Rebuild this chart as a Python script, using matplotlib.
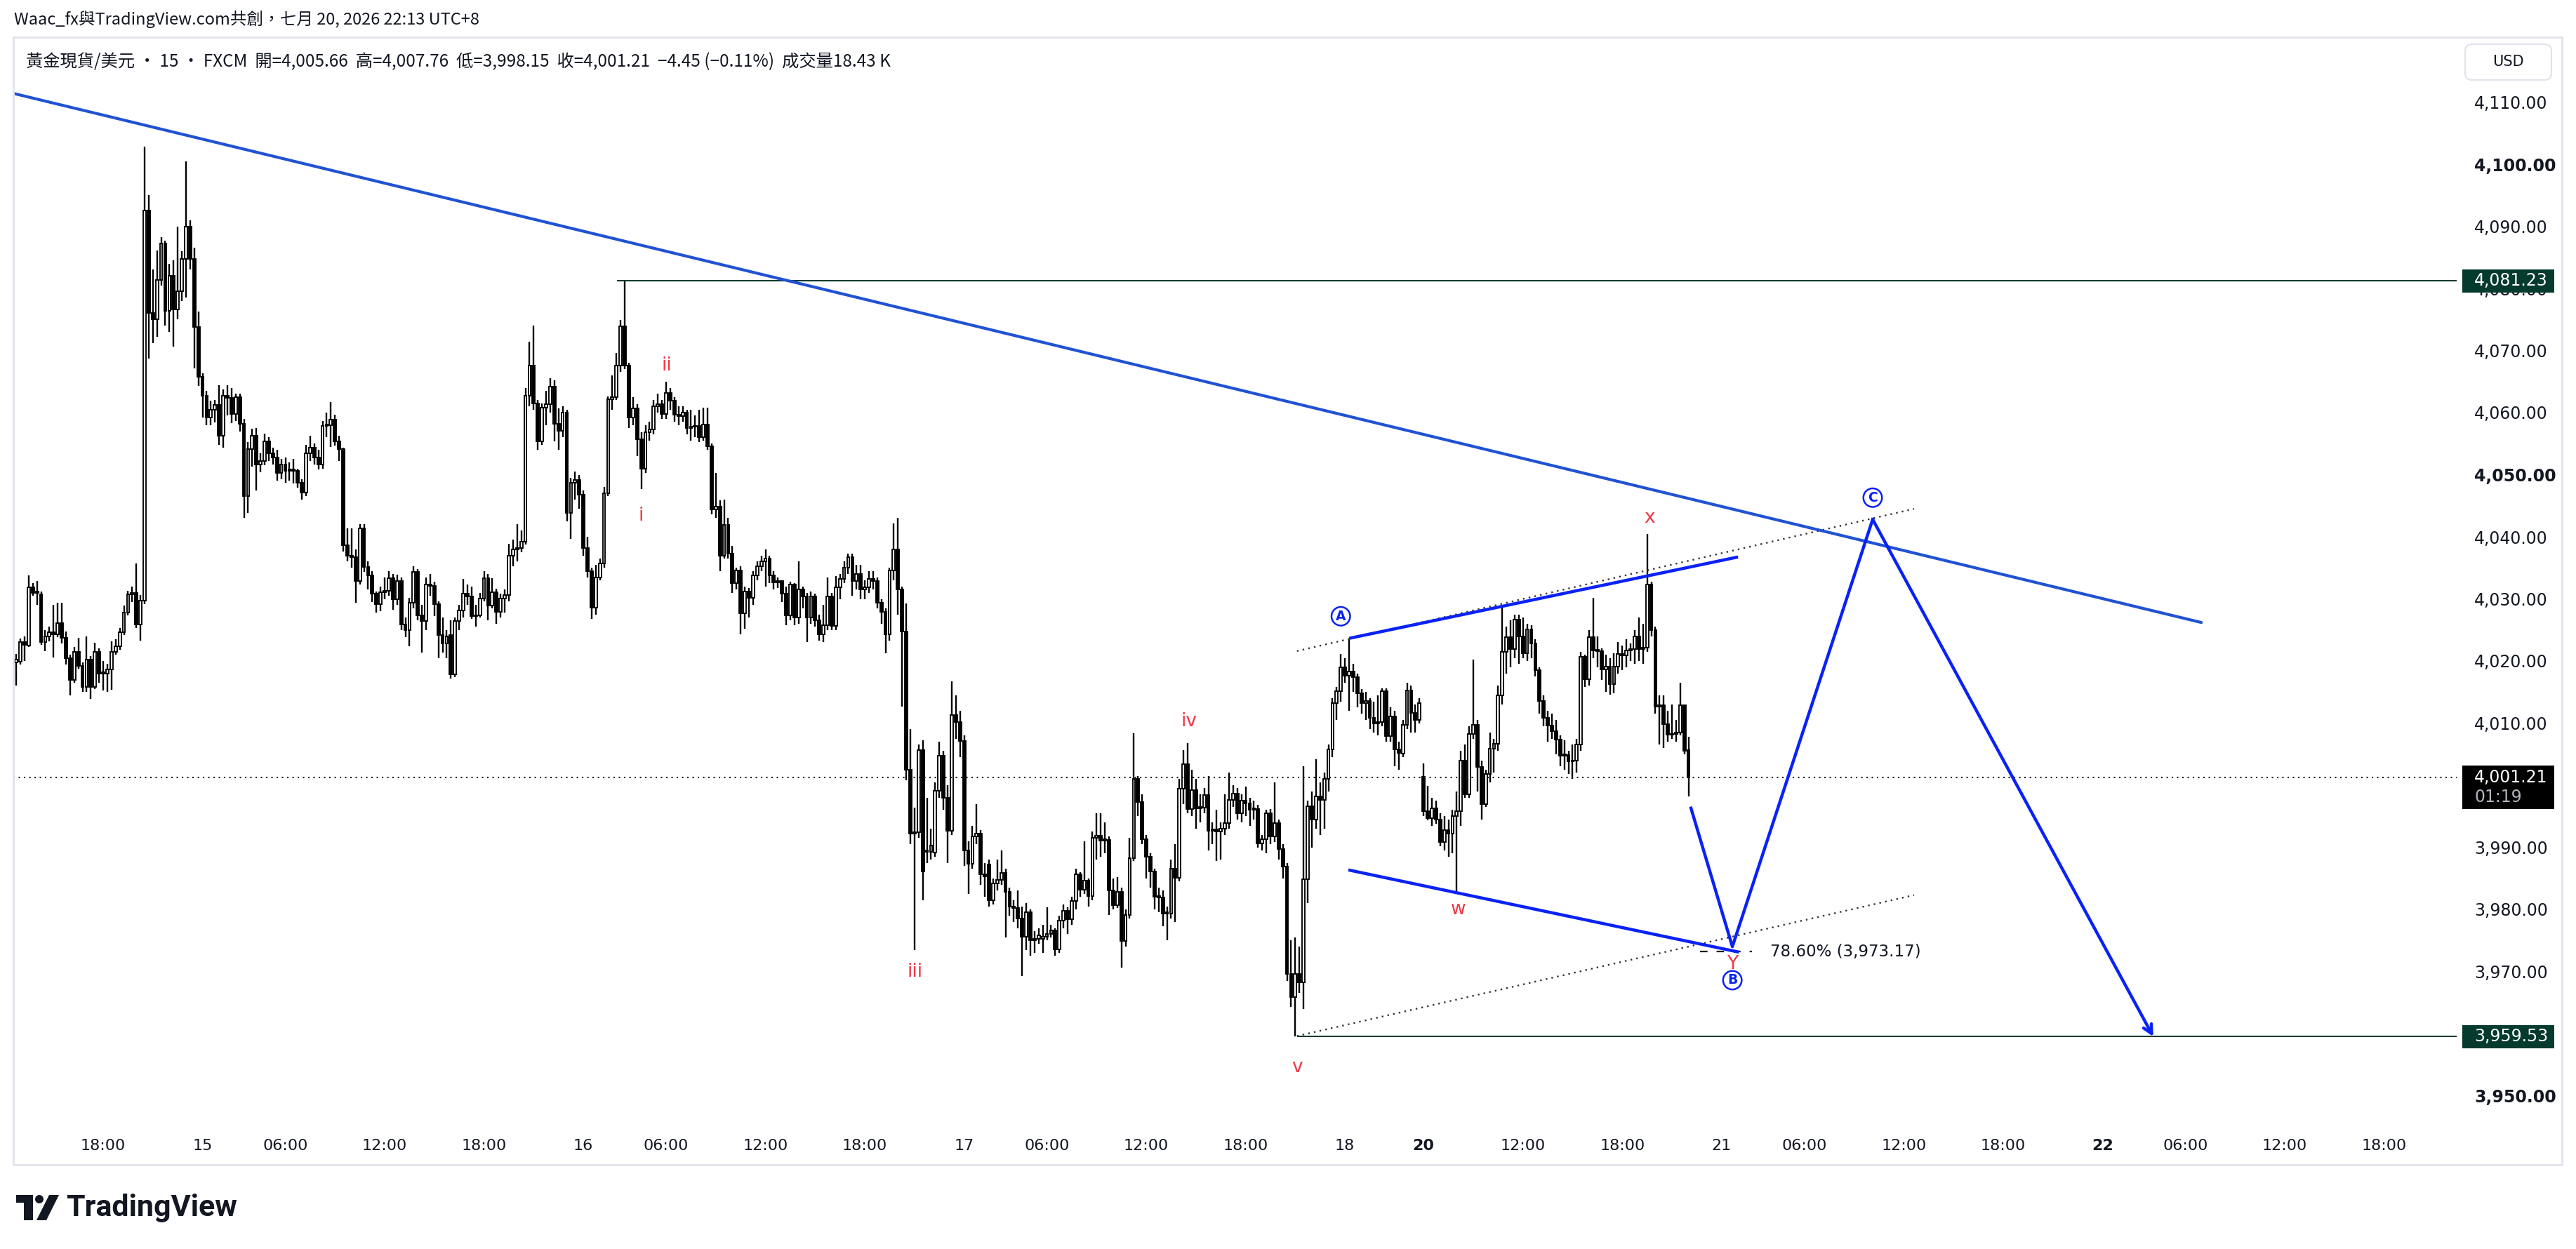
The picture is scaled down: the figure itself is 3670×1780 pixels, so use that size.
import matplotlib.pyplot as plt
from matplotlib.patches import Rectangle, Circle, Polygon, FancyBboxPatch
from matplotlib.transforms import Affine2D

W, H, DPI = 3670, 1780, 100

# 15-minute candles, index 0 = 14th 12:45 (UTC+8), last = 20th 22:00
opens = [
    4019.8, 4019.9, 4023.0, 4022.5, 4031.9, 4031.0, 4030.7, 4023.0, 4024.0, 4024.6,
    4024.3, 4026.1, 4023.7, 4020.5, 4017.0, 4021.5, 4019.2, 4015.8, 4020.2, 4015.8,
    4021.5, 4018.0, 4018.0, 4018.7, 4021.5, 4022.4, 4024.6, 4027.8, 4030.7, 4031.0,
    4025.9, 4029.7, 4092.5, 4076.0, 4075.0, 4081.4, 4087.2, 4076.4, 4082.0, 4076.6,
    4079.6, 4084.7, 4089.9, 4084.7, 4073.8, 4065.8, 4062.7, 4059.2, 4060.5, 4061.2,
    4056.3, 4062.7, 4062.4, 4059.8, 4062.5, 4058.2, 4046.5, 4054.1, 4056.3, 4051.6,
    4052.2, 4055.4, 4053.5, 4052.8, 4050.3, 4051.6, 4050.6, 4050.9, 4050.6, 4048.7,
    4047.1, 4053.5, 4054.4, 4052.8, 4051.6, 4057.9, 4058.0, 4058.9, 4055.4, 4054.1,
    4038.6, 4037.0, 4036.7, 4032.9, 4041.4, 4035.1, 4033.8, 4030.8, 4029.1, 4031.1,
    4031.3, 4033.3, 4029.9, 4032.9, 4025.9, 4025.0, 4029.4, 4034.4, 4027.4, 4026.4,
    4032.3, 4032.1, 4029.1, 4024.2, 4022.8, 4024.2, 4017.9, 4026.4, 4028.1, 4030.8,
    4030.35, 4027.2, 4027.4, 4030.1, 4033.3, 4028.9, 4031.1, 4027.9, 4030.1, 4030.6,
    4037.0, 4038.0, 4038.2, 4039.2, 4062.7, 4067.6, 4061.5, 4055.4, 4060.8, 4061.3,
    4064.2, 4058.2, 4057.1, 4060.0, 4043.8, 4048.7, 4049.2, 4046.8, 4038.2, 4034.5,
    4028.6, 4033.5, 4035.7, 4047.0, 4062.2, 4062.5, 4067.6, 4073.9, 4067.6, 4059.2,
    4060.7, 4055.7, 4051.0, 4056.8, 4057.3, 4061.0, 4061.3, 4059.75, 4063.2, 4061.9,
    4059.7, 4059.4, 4060.0, 4057.5, 4057.7, 4057.9, 4056.1, 4058.1, 4054.6, 4044.4,
    4044.9, 4037.0, 4041.9, 4037.3, 4032.5, 4034.6, 4027.7, 4031.2, 4030.2, 4033.8,
    4035.2, 4036.0, 4036.5, 4033.8, 4032.7, 4032.9, 4030.8, 4027.3, 4032.3, 4027.0,
    4031.5, 4030.4, 4027.0, 4030.4, 4026.6, 4024.3, 4025.8, 4030.4, 4025.6, 4031.9,
    4033.2, 4035.0, 4036.7, 4032.9, 4034.0, 4031.5, 4031.9, 4033.2, 4032.9, 4029.4,
    4027.9, 4024.3, 4034.6, 4038.0, 4031.5, 4024.7, 4002.5, 3992.2, 3992.4, 4005.6,
    3989.5, 3989.3, 3989.1, 3999.1, 4004.8, 3998.0, 3992.6, 4011.3, 4010.2, 4007.1,
    3989.5, 3987.4, 3991.8, 3992.2, 3985.7, 3987.2, 3981.5, 3984.2, 3984.8, 3985.9,
    3982.8, 3980.4, 3980.2, 3978.5, 3975.6, 3979.6, 3975.0, 3975.2, 3975.2, 3975.6,
    3976.1, 3976.6, 3973.6, 3978.2, 3979.8, 3978.4, 3981.4, 3985.6, 3983.2, 3984.6,
    3982.1, 3991.5, 3991.9, 3991.1, 3991.2, 3983.0, 3980.7, 3982.8, 3974.9, 3979.1,
    3988.3, 4001.0, 3997.3, 3991.3, 3988.5, 3986.1, 3982.0, 3981.9, 3979.3, 3979.3,
    3986.5, 3985.1, 3999.4, 4003.4, 3996.2, 3999.2, 3996.3, 3996.4, 3998.4, 3992.7,
    3992.9, 3992.5, 3993.0, 3993.9, 3997.6, 3998.7, 3995.5, 3997.5, 3997.1, 3996.1,
    3996.2, 3990.6, 3991.3, 3995.5, 3991.8, 3993.9, 3989.7, 3986.9, 3969.6, 3965.9,
    3969.6, 3968.2, 3984.9, 3996.6, 3994.5, 3998.2, 3997.6, 4001.0, 4005.8, 4013.2,
    4015.1, 4019.0, 4017.6, 4018.3, 4017.4, 4014.8, 4013.2, 4013.6, 4010.9, 4010.0,
    4010.2, 4015.1, 4007.9, 4011.1, 4005.8, 4005.1, 4009.7, 4015.2, 4011.6, 4010.5,
    4001.4, 3995.8, 3994.7, 3996.3, 3994.5, 3990.8, 3992.8, 3992.2, 3995.0, 3995.8,
    4003.9, 3998.5, 4008.3, 4009.7, 4002.9, 3997.0, 4001.8, 4005.9, 4006.7, 4014.5,
    4021.5, 4023.8, 4021.9, 4026.7, 4023.9, 4021.2, 4025.1, 4022.8, 4018.5, 4013.6,
    4010.9, 4009.6, 4008.7, 4007.4, 4004.8, 4004.9, 4003.8, 4004.0, 4006.5, 4020.7,
    4017.1, 4023.8, 4021.7, 4021.6, 4018.7, 4019.1, 4016.3, 4019.1, 4021.1, 4020.9,
    4021.7, 4021.9, 4024.0, 4021.9, 4022.2, 4032.3, 4025.0, 4012.6, 4012.9, 4009.8,
    4008.1, 4008.3, 4008.5, 4012.9, 4005.66,
]
highs = [
    4021.1, 4023.6, 4023.9, 4033.8, 4032.5, 4032.9, 4031.2, 4025.0, 4025.5, 4029.0,
    4029.4, 4029.4, 4024.8, 4021.0, 4022.3, 4023.7, 4019.8, 4023.9, 4020.8, 4022.9,
    4022.0, 4020.0, 4019.6, 4023.2, 4023.5, 4025.3, 4028.9, 4031.3, 4032.0, 4035.7,
    4030.6, 4102.8, 4095.0, 4083.0, 4086.1, 4088.2, 4087.7, 4084.0, 4084.5, 4089.9,
    4086.0, 4100.4, 4091.0, 4086.5, 4076.3, 4066.3, 4063.5, 4061.9, 4062.0, 4064.4,
    4063.7, 4064.4, 4064.0, 4063.0, 4063.0, 4059.0, 4055.3, 4057.4, 4057.5, 4053.5,
    4056.6, 4056.0, 4054.4, 4054.0, 4052.5, 4052.8, 4052.0, 4052.5, 4051.0, 4049.3,
    4054.8, 4056.3, 4055.0, 4054.0, 4058.6, 4060.0, 4061.7, 4059.7, 4056.3, 4054.4,
    4041.3, 4041.3, 4038.0, 4042.0, 4042.0, 4036.0, 4034.5, 4031.2, 4032.0, 4033.5,
    4034.5, 4034.0, 4033.9, 4033.4, 4027.0, 4030.2, 4035.2, 4034.8, 4029.0, 4033.5,
    4034.0, 4032.8, 4029.6, 4027.0, 4025.0, 4026.5, 4027.0, 4029.0, 4033.2, 4032.3,
    4032.0, 4029.0, 4031.0, 4034.5, 4034.0, 4033.3, 4031.6, 4030.8, 4031.5, 4038.9,
    4039.5, 4042.0, 4041.0, 4064.0, 4071.4, 4074.0, 4062.0, 4061.5, 4063.5, 4065.5,
    4065.2, 4060.7, 4061.0, 4060.4, 4049.5, 4050.5, 4050.0, 4047.5, 4040.0, 4035.0,
    4035.5, 4036.5, 4048.0, 4062.6, 4066.0, 4069.6, 4074.9, 4081.23, 4068.0, 4062.5,
    4061.3, 4056.8, 4058.0, 4058.5, 4062.0, 4063.0, 4062.0, 4065.0, 4064.0, 4062.5,
    4061.0, 4061.0, 4060.5, 4060.5, 4059.5, 4060.5, 4060.8, 4060.8, 4055.0, 4050.3,
    4045.9, 4046.0, 4043.0, 4038.5, 4035.0, 4035.3, 4032.0, 4031.8, 4034.5, 4036.0,
    4037.0, 4038.0, 4037.0, 4034.5, 4033.5, 4033.0, 4032.0, 4032.8, 4032.5, 4036.0,
    4032.0, 4031.0, 4031.2, 4030.8, 4027.5, 4029.0, 4033.5, 4031.0, 4033.7, 4034.0,
    4036.0, 4037.3, 4037.3, 4035.5, 4035.5, 4033.0, 4034.5, 4034.5, 4033.5, 4030.0,
    4028.5, 4035.0, 4042.2, 4043.0, 4032.0, 4029.3, 4009.0, 3996.4, 4006.5, 4007.2,
    3998.0, 3993.0, 4000.5, 4007.0, 4005.5, 4000.0, 4016.7, 4014.5, 4012.0, 4008.0,
    3991.0, 3993.5, 3997.0, 3992.8, 3987.5, 3988.0, 3985.0, 3988.0, 3989.5, 3986.5,
    3983.5, 3981.5, 3983.0, 3980.5, 3981.0, 3980.0, 3976.5, 3977.0, 3977.5, 3980.3,
    3977.5, 3977.0, 3979.0, 3980.8, 3980.3, 3982.0, 3986.5, 3986.0, 3991.0, 3985.0,
    3992.5, 3995.5, 3995.5, 3994.0, 3991.8, 3985.0, 3985.2, 3983.5, 3980.0, 3991.5,
    4008.4, 4001.5, 3998.5, 3992.0, 3989.0, 3986.5, 3983.5, 3983.0, 3980.5, 3988.0,
    3990.5, 4001.0, 4005.6, 4006.8, 4002.5, 4001.0, 3998.5, 3999.5, 4001.5, 3994.0,
    3996.0, 3994.0, 3998.5, 4002.0, 4000.0, 3999.5, 3998.5, 3999.8, 3998.0, 3997.5,
    3996.8, 3992.0, 3996.0, 3996.2, 4000.5, 3994.5, 3990.5, 3987.5, 3975.0, 3975.5,
    3974.0, 4003.1, 3997.5, 3999.0, 4004.2, 4000.5, 4002.0, 4006.5, 4014.0, 4015.8,
    4021.1, 4020.5, 4023.6, 4019.5, 4018.0, 4015.5, 4015.0, 4014.0, 4013.5, 4014.5,
    4015.6, 4015.6, 4012.5, 4012.0, 4007.0, 4010.5, 4016.5, 4016.0, 4013.0, 4014.0,
    4003.5, 3999.9, 3998.0, 3997.5, 3995.5, 3995.0, 3994.5, 3996.0, 3999.0, 4005.5,
    4006.5, 4009.5, 4020.2, 4010.5, 4004.0, 4002.5, 4008.5, 4007.5, 4016.0, 4028.6,
    4025.5, 4026.5, 4027.5, 4027.5, 4027.0, 4026.0, 4025.8, 4023.5, 4019.0, 4014.5,
    4012.0, 4011.5, 4010.5, 4008.0, 4007.2, 4005.5, 4006.5, 4007.5, 4021.5, 4021.0,
    4025.0, 4030.2, 4024.0, 4022.0, 4021.0, 4020.5, 4021.2, 4023.0, 4022.5, 4023.5,
    4022.8, 4025.0, 4027.0, 4026.0, 4040.5, 4032.8, 4025.5, 4014.5, 4014.5, 4012.0,
    4013.0, 4010.5, 4016.5, 4013.0, 4007.76,
]
lows = [
    4016.1, 4019.4, 4020.0, 4022.3, 4030.5, 4029.0, 4022.6, 4021.6, 4023.2, 4020.6,
    4023.8, 4022.8, 4019.4, 4014.5, 4016.5, 4018.8, 4015.0, 4015.0, 4013.9, 4015.5,
    4016.5, 4015.2, 4015.0, 4015.4, 4021.0, 4021.8, 4024.2, 4027.3, 4029.5, 4025.3,
    4023.3, 4029.2, 4068.7, 4071.2, 4072.2, 4080.5, 4074.0, 4073.0, 4070.6, 4075.0,
    4078.0, 4078.5, 4083.0, 4067.1, 4064.3, 4059.2, 4058.0, 4058.0, 4058.4, 4054.8,
    4054.4, 4059.6, 4058.3, 4058.6, 4057.0, 4043.0, 4043.8, 4051.3, 4047.5, 4050.4,
    4051.5, 4052.2, 4051.6, 4049.0, 4049.3, 4048.7, 4049.0, 4048.6, 4047.9, 4046.0,
    4046.6, 4052.2, 4051.6, 4050.9, 4051.0, 4056.0, 4054.5, 4054.7, 4052.2, 4037.6,
    4036.0, 4035.0, 4029.4, 4032.3, 4034.4, 4031.5, 4029.5, 4027.8, 4028.0, 4030.0,
    4030.5, 4028.3, 4029.0, 4025.0, 4023.8, 4022.4, 4028.5, 4026.6, 4021.3, 4025.0,
    4030.5, 4027.2, 4020.5, 4021.3, 4020.4, 4017.2, 4017.4, 4025.0, 4027.0, 4029.0,
    4026.8, 4025.5, 4027.0, 4029.6, 4026.5, 4028.5, 4026.0, 4027.0, 4027.8, 4029.6,
    4035.3, 4036.0, 4037.5, 4038.8, 4061.0, 4060.5, 4054.0, 4054.8, 4058.0, 4060.0,
    4055.4, 4054.0, 4056.0, 4042.5, 4039.7, 4046.0, 4044.5, 4037.0, 4033.5, 4026.8,
    4027.5, 4033.0, 4035.0, 4046.5, 4060.5, 4062.0, 4066.5, 4067.0, 4057.5, 4058.0,
    4053.0, 4047.7, 4050.3, 4055.5, 4056.5, 4060.0, 4059.0, 4059.0, 4060.5, 4058.5,
    4058.0, 4058.5, 4056.5, 4055.5, 4056.0, 4055.2, 4055.5, 4054.0, 4043.6, 4043.0,
    4034.5, 4036.5, 4036.5, 4031.0, 4031.5, 4024.3, 4025.2, 4027.0, 4029.0, 4033.0,
    4034.5, 4032.0, 4032.5, 4031.5, 4031.8, 4029.5, 4025.8, 4026.5, 4025.8, 4026.0,
    4028.5, 4023.0, 4026.0, 4025.5, 4023.3, 4023.0, 4025.0, 4025.0, 4025.0, 4030.0,
    4032.5, 4034.0, 4030.5, 4031.5, 4030.0, 4030.0, 4031.0, 4031.5, 4028.5, 4026.0,
    4021.2, 4023.3, 4033.0, 4027.5, 4012.7, 4000.8, 3990.5, 3973.5, 3991.5, 3981.5,
    3987.5, 3988.0, 3988.5, 3998.0, 3996.0, 3987.5, 3992.0, 4007.5, 4004.5, 3987.0,
    3982.5, 3986.5, 3990.5, 3984.0, 3982.0, 3980.5, 3980.8, 3983.0, 3984.0, 3975.5,
    3979.0, 3978.0, 3977.0, 3969.3, 3973.5, 3972.5, 3973.0, 3974.5, 3973.0, 3975.0,
    3975.5, 3972.5, 3973.0, 3977.0, 3976.0, 3977.5, 3980.0, 3982.0, 3982.5, 3980.5,
    3981.5, 3988.0, 3988.5, 3989.0, 3979.1, 3980.0, 3980.2, 3970.6, 3974.0, 3978.5,
    3987.8, 3995.0, 3990.5, 3985.0, 3983.5, 3980.0, 3979.5, 3977.3, 3975.0, 3978.5,
    3978.0, 3984.5, 3997.0, 3995.5, 3995.0, 3993.0, 3994.0, 3995.5, 3989.5, 3990.5,
    3987.8, 3988.0, 3992.0, 3993.0, 3996.5, 3994.5, 3994.0, 3995.0, 3993.5, 3994.5,
    3990.0, 3989.5, 3989.0, 3990.5, 3990.8, 3988.0, 3985.0, 3968.5, 3964.3, 3959.53,
    3966.5, 3964.0, 3981.0, 3990.0, 3993.0, 3992.0, 3993.0, 3999.0, 4004.5, 4010.5,
    4013.5, 4016.5, 4012.0, 4015.0, 4012.5, 4011.5, 4010.5, 4009.0, 4008.5, 4008.0,
    4009.5, 4007.0, 4007.0, 4003.0, 4002.5, 4004.5, 4009.0, 4008.5, 4008.5, 4010.0,
    3995.0, 3994.3, 3993.5, 3993.8, 3990.2, 3989.5, 3988.5, 3989.0, 3982.6, 3993.5,
    3998.0, 3998.0, 4007.5, 3999.0, 3994.5, 3996.5, 4000.5, 4002.0, 4005.5, 4013.0,
    4018.0, 4019.0, 4020.5, 4019.5, 4020.5, 4020.0, 4020.5, 4017.5, 4011.5, 4009.5,
    4007.0, 4007.5, 4005.0, 4003.0, 4002.5, 4001.8, 4001.0, 4002.0, 4005.5, 4015.8,
    4016.0, 4020.5, 4019.0, 4017.0, 4015.0, 4014.6, 4014.8, 4018.0, 4018.5, 4019.0,
    4020.0, 4019.5, 4020.0, 4019.5, 4021.5, 4024.0, 4011.5, 4006.5, 4006.0, 4007.0,
    4007.5, 4007.0, 4008.0, 4005.0, 3998.15,
]
closes = [
    4020.2, 4023.0, 4022.6, 4031.9, 4031.0, 4031.2, 4023.0, 4024.0, 4024.6, 4024.3,
    4026.1, 4023.7, 4020.5, 4017.0, 4021.5, 4019.2, 4015.8, 4020.2, 4015.8, 4021.5,
    4018.0, 4018.2, 4018.7, 4021.5, 4022.4, 4024.6, 4027.8, 4030.7, 4031.0, 4025.9,
    4029.7, 4092.5, 4076.0, 4075.0, 4081.4, 4087.2, 4076.4, 4082.0, 4076.6, 4079.6,
    4084.7, 4089.9, 4084.7, 4073.8, 4065.8, 4062.7, 4059.2, 4060.5, 4061.2, 4056.3,
    4062.7, 4062.4, 4059.8, 4062.5, 4058.2, 4046.5, 4054.1, 4056.3, 4051.6, 4052.2,
    4055.4, 4053.5, 4052.8, 4050.3, 4051.6, 4050.6, 4050.9, 4050.6, 4048.7, 4047.1,
    4053.5, 4054.4, 4052.8, 4051.6, 4057.9, 4058.0, 4058.9, 4055.4, 4054.1, 4038.6,
    4037.0, 4036.7, 4032.9, 4041.4, 4035.1, 4033.8, 4030.8, 4029.1, 4031.1, 4031.3,
    4033.3, 4029.9, 4032.9, 4025.9, 4025.0, 4029.4, 4034.4, 4027.4, 4026.4, 4032.3,
    4032.1, 4029.1, 4024.2, 4022.8, 4024.0, 4017.9, 4026.4, 4028.1, 4030.8, 4030.35,
    4027.2, 4027.4, 4030.1, 4033.3, 4028.9, 4031.1, 4027.9, 4030.1, 4030.6, 4037.0,
    4038.0, 4038.2, 4039.2, 4062.7, 4067.6, 4061.5, 4055.4, 4060.8, 4061.3, 4064.2,
    4058.2, 4057.1, 4060.0, 4043.8, 4048.7, 4049.2, 4046.8, 4038.2, 4034.5, 4028.6,
    4033.5, 4035.7, 4047.0, 4062.2, 4062.5, 4067.6, 4073.9, 4067.6, 4059.2, 4060.7,
    4055.7, 4051.0, 4056.8, 4057.3, 4061.0, 4061.3, 4059.75, 4063.2, 4061.9, 4059.7,
    4059.4, 4060.0, 4057.5, 4057.7, 4057.9, 4056.1, 4058.1, 4054.6, 4044.4, 4044.9,
    4037.0, 4041.9, 4037.3, 4032.5, 4034.6, 4027.7, 4031.2, 4030.2, 4033.8, 4035.2,
    4036.0, 4036.5, 4033.8, 4032.7, 4032.9, 4030.8, 4027.3, 4032.3, 4027.0, 4031.5,
    4030.4, 4027.0, 4030.4, 4026.6, 4024.3, 4025.8, 4030.4, 4025.6, 4031.9, 4033.2,
    4035.0, 4036.7, 4032.9, 4034.0, 4031.5, 4031.9, 4033.2, 4032.9, 4029.4, 4027.9,
    4024.3, 4034.6, 4038.0, 4031.5, 4024.7, 4002.5, 3992.2, 3992.4, 4005.6, 3986.1,
    3989.3, 3990.3, 3999.1, 4004.8, 3998.0, 3992.6, 4011.3, 4010.2, 4007.1, 3989.5,
    3987.4, 3991.8, 3992.2, 3985.7, 3985.3, 3981.5, 3984.2, 3984.8, 3985.9, 3982.8,
    3980.4, 3980.2, 3978.5, 3975.6, 3979.6, 3975.0, 3975.2, 3975.8, 3975.6, 3976.1,
    3976.6, 3973.6, 3978.2, 3979.8, 3978.4, 3981.4, 3985.6, 3983.2, 3984.6, 3982.1,
    3991.5, 3991.9, 3991.1, 3991.2, 3983.0, 3980.7, 3982.8, 3974.9, 3979.1, 3988.3,
    4001.0, 3997.3, 3991.3, 3988.5, 3986.1, 3982.0, 3981.9, 3979.3, 3979.3, 3986.5,
    3985.1, 3999.4, 4003.4, 3996.2, 3999.2, 3996.3, 3996.4, 3998.4, 3992.7, 3992.9,
    3992.5, 3993.0, 3993.9, 3997.6, 3998.7, 3995.5, 3997.5, 3997.1, 3996.1, 3996.2,
    3990.6, 3991.3, 3995.5, 3991.8, 3993.9, 3989.7, 3986.9, 3969.6, 3965.9, 3969.6,
    3968.2, 3984.9, 3996.6, 3994.5, 3998.2, 3997.6, 4001.0, 4005.8, 4013.2, 4015.1,
    4019.0, 4017.6, 4018.3, 4017.4, 4014.8, 4013.2, 4013.6, 4010.9, 4010.0, 4010.2,
    4015.1, 4007.9, 4011.1, 4005.8, 4005.2, 4009.7, 4015.2, 4011.6, 4010.5, 4013.2,
    3995.8, 3994.7, 3996.3, 3994.5, 3990.8, 3992.8, 3992.2, 3995.0, 3995.8, 4003.9,
    3998.5, 4008.3, 4009.7, 4002.9, 3997.0, 4001.8, 4005.9, 4006.7, 4014.5, 4021.5,
    4023.8, 4021.9, 4026.7, 4023.9, 4021.2, 4025.1, 4022.8, 4018.5, 4013.6, 4010.9,
    4009.6, 4008.7, 4007.4, 4004.8, 4004.9, 4003.8, 4004.0, 4006.5, 4020.7, 4017.1,
    4023.8, 4021.7, 4021.6, 4018.7, 4019.1, 4016.3, 4019.1, 4021.1, 4020.9, 4021.7,
    4021.9, 4024.0, 4021.9, 4022.2, 4032.3, 4025.0, 4012.6, 4012.9, 4009.8, 4008.1,
    4008.3, 4008.5, 4012.9, 4005.5, 4001.21,
]

tick_bars = [21, 45, 65, 89, 113, 137, 157, 181, 205, 229, 249, 273, 297,
             321, 340, 364, 388, 412, 432, 456, 480, 504, 524, 548, 572]
tick_labels = ['18:00', '15', '06:00', '12:00', '18:00', '16', '06:00', '12:00',
               '18:00', '17', '06:00', '12:00', '18:00', '18', '20', '12:00',
               '18:00', '21', '06:00', '12:00', '18:00', '22', '06:00', '12:00',
               '18:00']
bold_ticks = ['20', '22']

# 4,000.00 and 3,960.00 sit fully under the price tags, so they get no label
price_ticks = [3950, 3960, 3970, 3980, 3990, 4000, 4010, 4020, 4030, 4040,
               4050, 4060, 4070, 4080, 4090, 4100, 4110]
hidden_prices = [3960, 4000]
bold_prices = [3950, 4050, 4100]

# drawings (bar index, price)
trend_x, trend_y = [-0.7, 527.9], [4111.4, 4026.2]
upper_ch_x, upper_ch_y = [322.4, 415.6], [4023.7, 4036.7]
lower_ch_x, lower_ch_y = [322.2, 415.8], [3986.3, 3973.17]
upper_dot_x, upper_dot_y = [309.4, 458.5], [4021.6, 4044.5]
lower_dot_x, lower_dot_y = [309.4, 458.5], [3959.6, 3982.3]
proj_x = [404.6, 414.6, 448.5, 516.3]
proj_y = [3996.3, 3974.0, 4042.8, 3959.5]

wave_labels = ['ii', 'i', 'iii', 'iv', 'v', 'w', 'x', 'Y']
wave_x = [157.2, 151.0, 217.2, 283.3, 309.4, 348.4, 394.6, 414.6]
wave_y = [4067.6, 4043.4, 3969.9, 4010.3, 3954.6, 3980.0, 4043.0, 3971.2]

abc_labels = ['A', 'B', 'C']
abc_x = [320.0, 414.6, 448.5]
abc_y = [4027.2, 3968.6, 4046.3]

hi_level, hi_start = 4081.23, 145.2
lo_level, lo_start = 3959.53, 309.4
last_price = 4001.21
fib_level, fib_x0, fib_x1, fib_text_x = 3973.17, 406.7, 419.4, 423.7

title = 'Waac_fx與TradingView.com共創，七月 20, 2026 22:13 UTC+8'
legend = ('黃金現貨/美元 · 15 · FXCM  開=4,005.66  高=4,007.76  低=3,998.15  '
          '收=4,001.21  −4.45 (−0.11%)  成交量18.43 K')

TXT = '#131722'
GREEN = '#053a2e'
RED = '#f23645'
BLUE = '#0a22f5'
TREND = '#2152d3'

# pixel calibration of the screenshot
L, R, T, B = 19, 3500, 53, 1605
X0, DX = 23.2, 5.897      # px of bar 0, px per bar
Y0, DY = 234.0, 8.85      # px of 4100, px per 1.00


def main():
    plt.rcParams['font.family'] = ['DejaVu Sans', 'Noto Sans CJK TC']
    fig = plt.figure(figsize=(W / DPI, H / DPI), dpi=DPI, facecolor='white')
    px = Affine2D().scale(1.0 / W, -1.0 / H).translate(0, 1) + fig.transFigure

    ax = fig.add_axes([L / W, 1 - B / H, (R - L) / W, (B - T) / H])
    ax.set_xlim((L - X0) / DX, (R - X0) / DX)
    ax.set_ylim(4100 - (B - Y0) / DY, 4100 + (Y0 - T) / DY)
    for s in ax.spines.values():
        s.set_visible(False)

    # candles
    n = len(closes)
    idx = list(range(n))
    bottoms = [min(o, c) for o, c in zip(opens, closes)]
    heights = [max(abs(c - o), 0.2) for o, c in zip(opens, closes)]
    fills = ['white' if c >= o else 'black' for o, c in zip(opens, closes)]
    ax.vlines(idx, lows, highs, color='black', lw=1.7, zorder=2)
    ax.bar(idx, heights, bottom=bottoms, width=0.64, color=fills,
           edgecolor='black', linewidth=1.35, zorder=3)

    # levels
    x_end = (R - X0) / DX
    ax.hlines(hi_level, hi_start, x_end, color=GREEN, lw=1.5, zorder=4)
    ax.hlines(lo_level, lo_start, x_end, color=GREEN, lw=1.5, zorder=4)
    ax.axhline(last_price, color=TXT, lw=1.5, ls=(0, (1, 2.6)), zorder=4)

    # trend lines / channel
    ax.plot(trend_x, trend_y, color=TREND, lw=3.0, solid_capstyle='round', zorder=5)
    ax.plot(upper_ch_x, upper_ch_y, color=BLUE, lw=3.2, zorder=5)
    ax.plot(lower_ch_x, lower_ch_y, color=BLUE, lw=3.2, zorder=5)
    ax.plot(upper_dot_x, upper_dot_y, color='#333333', lw=1.7, ls=(0, (1, 2.5)), zorder=4)
    ax.plot(lower_dot_x, lower_dot_y, color='#333333', lw=1.7, ls=(0, (1, 2.5)), zorder=4)

    # projected path
    ax.plot(proj_x[:3], proj_y[:3], color=BLUE, lw=3.2, zorder=5)
    ax.annotate('', xy=(proj_x[3], proj_y[3]), xytext=(proj_x[2], proj_y[2]),
                arrowprops=dict(arrowstyle='->,head_length=0.9,head_width=0.45',
                                color=BLUE, lw=3.2, shrinkA=0, shrinkB=0), zorder=5)

    # fib level
    ax.hlines(fib_level, fib_x0, fib_x1, color=TXT, lw=1.6, ls=(0, (4.8, 5.8)), zorder=4)
    ax.text(fib_text_x, fib_level, '78.60% (3,973.17)', fontsize=16.5, color=TXT,
            va='center', ha='left', zorder=6)

    for lab, x, y in zip(wave_labels, wave_x, wave_y):
        ax.text(x, y, lab, color=RED, fontsize=19, ha='center', va='center', zorder=6)
    for lab, x, y in zip(abc_labels, abc_x, abc_y):
        ax.text(x, y, lab, color=BLUE, fontsize=13.5, fontweight='bold', ha='center',
                va='center', zorder=7,
                bbox=dict(boxstyle='circle,pad=0.2', fc='white', ec=BLUE, lw=1.8))

    # time axis
    ax.set_xticks(tick_bars)
    ax.set_xticklabels(tick_labels)
    ax.tick_params(axis='x', length=0, pad=13, labelsize=16, labelcolor=TXT)
    for t in ax.get_xticklabels():
        if t.get_text() in bold_ticks:
            t.set_fontweight('bold')

    # price axis
    ax.yaxis.tick_right()
    ax.set_yticks(price_ticks)
    ax.set_yticklabels(['' if v in hidden_prices else f'{v:,.2f}' for v in price_ticks])
    ax.tick_params(axis='y', length=0, pad=18, labelsize=17, labelcolor=TXT)
    for t, v in zip(ax.get_yticklabels(), price_ticks):
        if v in bold_prices:
            t.set_fontweight('bold')

    def axf(p):
        return (p - L) / (R - L)

    ytr = ax.get_yaxis_transform()
    for lvl, txt in [(hi_level, f'{hi_level:,.2f}'), (lo_level, f'{lo_level:,.2f}')]:
        ax.add_patch(Rectangle((axf(3508), lvl - 1.86), axf(3639) - axf(3508), 3.73,
                               transform=ytr, fc=GREEN, ec='none', clip_on=False, zorder=8))
        ax.text(axf(3525), lvl, txt, transform=ytr, color='white', fontsize=17,
                va='center', ha='left', clip_on=False, zorder=9)
    ax.add_patch(Rectangle((axf(3508), last_price - 5.1), axf(3639) - axf(3508), 7.1,
                           transform=ytr, fc='black', ec='none', clip_on=False, zorder=8))
    ax.text(axf(3525), last_price, f'{last_price:,.2f}', transform=ytr, color='white',
            fontsize=17, va='center', ha='left', clip_on=False, zorder=9)
    ax.text(axf(3525), last_price - 3.15, '01:19', transform=ytr, color='#b2b5be',
            fontsize=17, va='center', ha='left', clip_on=False, zorder=9)

    # frame, header, USD button
    fig.add_artist(Rectangle((19, 53), 3631, 1607, transform=px, fill=False,
                             ec='#e0e3eb', lw=2))
    fig.add_artist(FancyBboxPatch((3512, 63), 123, 51, boxstyle='round,pad=0,rounding_size=10',
                                  transform=px, fc='white', ec='#e0e3eb', lw=1.5))
    fig.text(3573, 88, 'USD', transform=px, fontsize=15, color=TXT, ha='center', va='center')
    cjk = ['Noto Sans CJK TC', 'DejaVu Sans']
    fig.text(20, 28, title, transform=px, fontsize=17, color=TXT, va='center', family=cjk)
    fig.text(37, 88, legend, transform=px, fontsize=17.5, color=TXT, va='center', family=cjk)

    # TradingView logo
    for p in [Rectangle((23, 1703), 24, 11), Rectangle((34, 1703), 13, 36),
              Circle((56, 1709), 6),
              Polygon([(52, 1739), (66, 1739), (84, 1703), (70, 1703)])]:
        p.set_transform(px)
        p.set_facecolor(TXT)
        p.set_edgecolor('none')
        fig.add_artist(p)
    fig.text(94, 1721, 'TradingView', transform=px, fontsize=31, fontweight='bold',
             color=TXT, va='center', family=['Roboto', 'DejaVu Sans'])

    fig.savefig('out.png', dpi=DPI, facecolor='white')


if __name__ == '__main__':
    main()
